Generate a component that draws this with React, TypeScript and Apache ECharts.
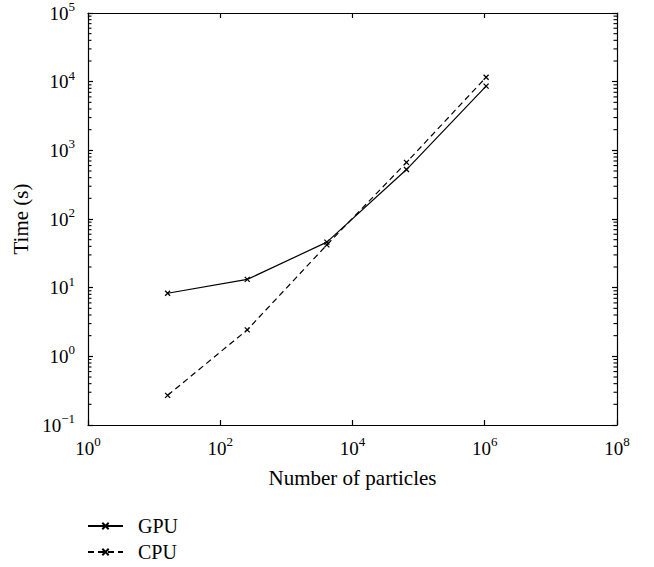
import React, { useEffect, useRef } from "react";
import * as echarts from "echarts";

const particleCounts = [16, 256, 4096, 65536, 1048576];
const gpuTimes = [8.3, 13.2, 46, 525, 8600];
const cpuTimes = [0.27, 2.43, 42, 667, 11600];
const yMinorTickValues: number[] = [];
for (let k = -1; k <= 4; k++) {
  for (let m = 2; m <= 9; m++) yMinorTickValues.push(m * Math.pow(10, k));
}
const X_MIN = 1;
const X_MAX = 1e8;
const Y_MIN = 0.1;
const Y_MAX = 1e5;

const FONT = "Liberation Serif";
const xMark = "path://M0 0L10 10M10 0L0 10";

function supLabel(v: number) {
  const e = Math.round(Math.log10(v));
  const es = e < 0 ? "\u2212" + Math.abs(e) : String(e);
  return `{b|10}{s|${es}}`;
}

const rich = {
  b: { fontSize: 19, fontFamily: FONT, color: "#000", lineHeight: 26, verticalAlign: "middle" },
  s: { fontSize: 13, fontFamily: FONT, color: "#000", lineHeight: 12, verticalAlign: "top" },
};

export default function App() {
  const ref = useRef<HTMLDivElement>(null);
  useEffect(() => {
    if (!ref.current) return;
    const chart = echarts.init(ref.current, undefined, { renderer: "svg" });
    const axisLine = { show: true, lineStyle: { color: "#000", width: 1.2 } };
    const tick = { show: true, inside: true, length: 5, lineStyle: { color: "#000", width: 1.2 } };
    const minorTickSeries = (xv: number, side: number) => ({
      type: "custom",
      silent: true,
      clip: false,
      z: 5,
      data: yMinorTickValues.map((v) => [xv, v]),
      renderItem: (params: any, api: any) => {
        const p = api.coord([api.value(0), api.value(1)]);
        return {
          type: "line",
          shape: { x1: p[0], y1: p[1], x2: p[0] + side * 3.5, y2: p[1] },
          style: { stroke: "#000", lineWidth: 1.1, fill: null },
        };
      },
    });
    chart.setOption({
      animation: false,
      backgroundColor: "#fff",
      textStyle: { fontFamily: FONT },
      grid: { left: 88, right: 37, top: 9, bottom: 142, containLabel: false },
      legend: {
        orient: "vertical",
        left: 87,
        top: 516,
        padding: 0,
        itemWidth: 35,
        itemHeight: 8,
        itemGap: 6,
        textStyle: { fontFamily: FONT, fontSize: 20, color: "#000", lineHeight: 20, padding: [0, 0, 0, 10] },
        data: ["GPU", "CPU"],
      },
      xAxis: [
        {
          type: "log",
          logBase: 10,
          min: X_MIN,
          max: X_MAX,
          interval: 2,
          name: "Number of particles",
          nameLocation: "middle",
          nameGap: 42,
          nameTextStyle: { fontFamily: FONT, fontSize: 21, color: "#000" },
          axisLine,
          axisTick: tick,
          axisLabel: { formatter: supLabel, rich, margin: 10 },
          splitLine: { show: false },
          minorTick: { show: false },
        },
        {
          type: "log",
          logBase: 10,
          min: X_MIN,
          max: X_MAX,
          interval: 2,
          position: "top",
          axisLine,
          axisTick: tick,
          axisLabel: { show: false },
          splitLine: { show: false },
        },
      ],
      yAxis: [
        {
          type: "log",
          logBase: 10,
          min: Y_MIN,
          max: Y_MAX,
          interval: 1,
          name: "Time (s)",
          nameLocation: "middle",
          nameGap: 46,
          nameTextStyle: { fontFamily: FONT, fontSize: 21, color: "#000" },
          axisLine,
          axisTick: tick,
          axisLabel: { formatter: supLabel, rich, margin: 13 },
          splitLine: { show: false },
        },
        {
          type: "log",
          logBase: 10,
          min: Y_MIN,
          max: Y_MAX,
          interval: 1,
          position: "right",
          axisLine,
          axisTick: tick,
          axisLabel: { show: false },
          splitLine: { show: false },
        },
      ],
      series: [
        {
          name: "GPU",
          type: "line",
          data: particleCounts.map((x, i) => [x, gpuTimes[i]]),
          symbol: xMark,
          symbolSize: 5,
          itemStyle: { color: "rgba(0,0,0,0)", borderColor: "#000", borderWidth: 1.3 },
          lineStyle: { color: "#000", width: 1.2, type: "solid" },
          z: 3,
        },
        {
          name: "CPU",
          type: "line",
          data: particleCounts.map((x, i) => [x, cpuTimes[i]]),
          symbol: xMark,
          symbolSize: 5,
          itemStyle: { color: "rgba(0,0,0,0)", borderColor: "#000", borderWidth: 1.3 },
          lineStyle: { color: "#000", width: 1.2, type: [6, 4] },
          z: 3,
        },
        minorTickSeries(X_MIN, 1),
        minorTickSeries(X_MAX, -1),
      ],
    });
    return () => chart.dispose();
  }, []);
  return <div ref={ref} style={{ position: "absolute", left: 0, top: 0, width: 654, height: 567 }} />;
}
